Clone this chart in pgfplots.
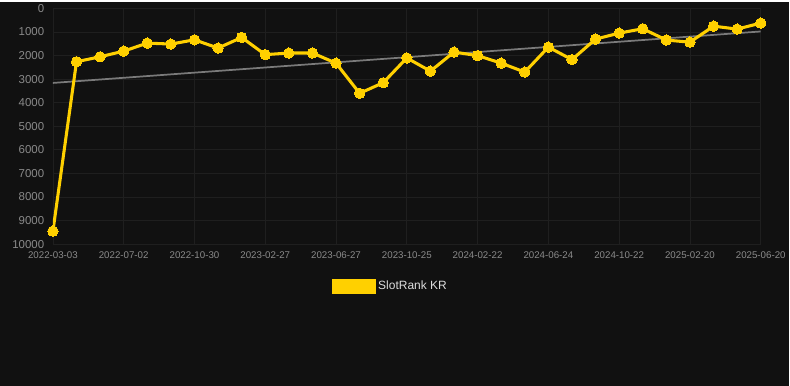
\documentclass[border=0pt]{standalone}
\usepackage{pgfplots}
\pgfplotsset{compat=1.18}
\usepackage{fontspec}
\setmainfont{Liberation Sans}
\definecolor{bg}{HTML}{111111}
\definecolor{gridc}{HTML}{1F1F1F}
\definecolor{tickc}{HTML}{8A8A8A}
\definecolor{yel}{HTML}{FFD000}
\definecolor{trend}{HTML}{7A7A7A}
\definecolor{legt}{HTML}{DDDDDD}
\pgfplotstableread{
x y
0 9450
1 2260
2 2050
3 1810
4 1470
5 1510
6 1330
7 1680
8 1230
9 1960
10 1890
11 1890
12 2320
13 3600
14 3150
15 2100
16 2660
17 1850
18 2000
19 2320
20 2700
21 1640
22 2170
23 1300
24 1045
25 860
26 1340
27 1430
28 750
29 875
30 620
}\ranks
\begin{document}
\begin{tikzpicture}
\fill[bg] (-39.75pt,-106.5pt) rectangle (552.75pt,181.5pt);
\begin{axis}[
  at={(0,0)}, anchor=south west,
  scale only axis, width=531.75pt, height=177pt,
  xmin=0, xmax=30, ymin=0, ymax=10000, y dir=reverse,
  axis line style={draw=none},
  grid=major, major grid style={gridc, line width=0.6pt},
  xtick={0,3,...,30},
  xticklabels={2022-03-03,2022-07-02,2022-10-30,2023-02-27,2023-06-27,2023-10-25,2024-02-22,2024-06-24,2024-10-22,2025-02-20,2025-06-20},
  ytick={0,1000,...,10000},
  scaled y ticks=false,
  /pgf/number format/fixed,
  /pgf/number format/1000 sep={},
  /pgf/number format/assume math mode=true,
  y tick label style={font=\fontsize{8.6}{10}\selectfont, text=tickc, xshift=-3pt},
  x tick label style={font=\fontsize{7.3}{9}\selectfont, text=tickc, yshift=-2pt},
  major tick length=0pt,
  legend style={at={(0.477,-0.178)}, anchor=center, draw=none, fill=none, text=legt, font=\fontsize{9}{11}\selectfont},
  legend cell align=left,
]
\addplot[trend, line width=1.3pt, forget plot] coordinates {(0,3160) (30,975)};
\addplot[yel, line width=2.3pt, mark=*, mark size=3.9pt, mark options={fill=yel, draw=yel, line width=0pt},
  legend image code/.code={\fill[yel] (0pt,-4.5pt) rectangle (30.75pt,4.5pt);}]
  table[x=x, y=y] {\ranks};
\addlegendentry{SlotRank KR}
\end{axis}
\end{tikzpicture}
\end{document}
